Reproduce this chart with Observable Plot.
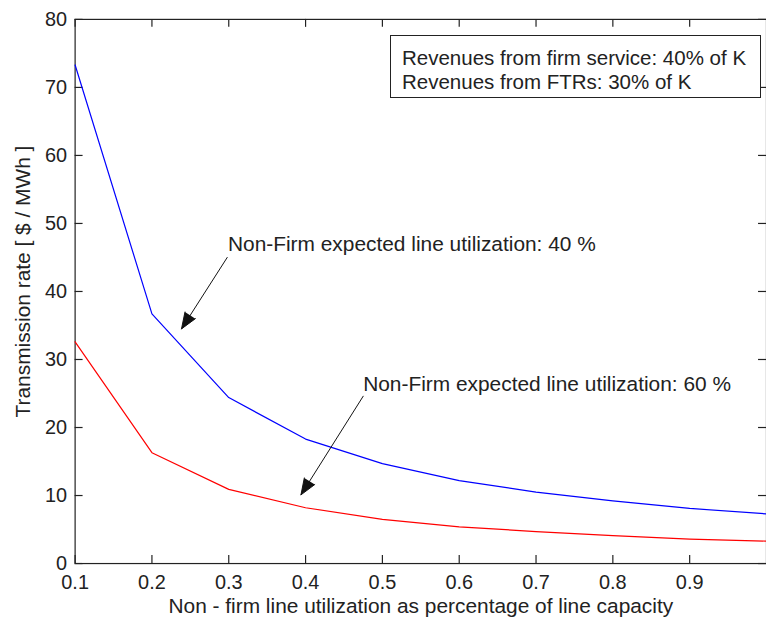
<!DOCTYPE html>
<html>
<head>
<meta charset="utf-8">
<script src="https://cdn.jsdelivr.net/npm/d3@7"></script>
<script src="https://cdn.jsdelivr.net/npm/@observablehq/plot@0.6"></script>
<style>
  html, body { margin: 0; padding: 0; background: #fff; overflow: hidden; }
  #wrap { position: relative; width: 766px; height: 623px; overflow: hidden; }
  #box {
    position: absolute; left: 390px; top: 35px; width: 371px; height: 63px;
    box-sizing: border-box; border: 1px solid #222; background: #fff;
    padding: 10px 0 0 11px; font-family: Arial, "Liberation Sans", sans-serif;
    font-size: 20.5px; line-height: 24px; color: #222; white-space: nowrap;
  }
</style>
</head>
<body>
<div id="wrap"></div>
<script>
// ---- data ----
const xValues = [0.1, 0.2, 0.3, 0.4, 0.5, 0.6, 0.7, 0.8, 0.9, 1.0];
const blueRate = [73.3, 36.7, 24.4, 18.3, 14.7, 12.2, 10.5, 9.2, 8.1, 7.3];
const redRate  = [32.6, 16.3, 10.9, 8.2, 6.5, 5.4, 4.7, 4.1, 3.6, 3.3];
const xTicks = [0.1, 0.2, 0.3, 0.4, 0.5, 0.6, 0.7, 0.8, 0.9];
const yTicks = [0, 10, 20, 30, 40, 50, 60, 70, 80];
const xLabel = "Non - firm line utilization as percentage of line capacity";
const yLabel = "Transmission rate [ $ / MWh ]";
const boxLines = ["Revenues from firm service: 40% of K", "Revenues from FTRs: 30% of K"];
const annText = ["Non-Firm expected line utilization: 40 %", "Non-Firm expected line utilization: 60 %"];
const annX = [0.299, 0.475];
const annY = [46.9, 26.3];
const arrowX1 = [0.298, 0.475];
const arrowY1 = [45.0, 24.6];
const arrowX2 = [0.2385, 0.394];
const arrowY2 = [34.5, 10.1];

// ---- build ----
const blueData = xValues.map((x, i) => ({x, y: blueRate[i]}));
const redData = xValues.map((x, i) => ({x, y: redRate[i]}));
const anns = annText.map((t, i) => ({t, x: annX[i], y: annY[i]}));
const arrows = arrowX1.map((d, i) => ({x1: d, y1: arrowY1[i], x2: arrowX2[i], y2: arrowY2[i]}));

const W = 770, H = 623, mL = 75, mR = 0, mT = 19, mB = 57;
const innerW = W - mL - mR, innerH = H - mT - mB;
const axisColor = "#222";
const font = 'Arial, "Liberation Sans", sans-serif';

const chart = Plot.plot({
  width: W, height: H,
  marginLeft: mL, marginRight: mR, marginTop: mT, marginBottom: mB,
  style: {fontFamily: font, fontSize: "20px", color: axisColor, background: "#fff", overflow: "visible"},
  x: {domain: [0.1, 1.0]},
  y: {domain: [0, 80]},
  marks: [
    Plot.frame({stroke: axisColor, strokeWidth: 1.2}),
    // inward ticks on all four sides
    Plot.tickX(xTicks, {x: d => d, insetTop: innerH - 8, stroke: axisColor, strokeWidth: 1.2}),
    Plot.tickX(xTicks, {x: d => d, insetBottom: innerH - 8, stroke: axisColor, strokeWidth: 1.2}),
    Plot.tickY(yTicks, {y: d => d, insetRight: innerW - 8, stroke: axisColor, strokeWidth: 1.2}),
    Plot.tickY(yTicks, {y: d => d, insetLeft: innerW - 8, stroke: axisColor, strokeWidth: 1.2}),
    Plot.axisX(xTicks, {tickSize: 0, tickPadding: 11, label: null, fontSize: 20, tickFormat: d3.format(".1f")}),
    Plot.axisY(yTicks, {tickSize: 0, tickPadding: 8, label: null, fontSize: 20}),
    Plot.text([xLabel], {frameAnchor: "bottom", textAnchor: "middle", dy: 43, fontSize: 21, fill: axisColor, lineAnchor: "middle"}),
    Plot.text([yLabel], {frameAnchor: "left", textAnchor: "middle", lineAnchor: "middle", dx: -52, dy: -10, rotate: -90, fontSize: 21, fill: axisColor}),
    Plot.line(blueData, {x: "x", y: "y", stroke: "#0000ff", strokeWidth: 1.2}),
    Plot.line(redData, {x: "x", y: "y", stroke: "#ff0000", strokeWidth: 1.2}),
    Plot.arrow(arrows, {x1: "x1", y1: "y1", x2: "x2", y2: "y2", stroke: "#111", fill: "#111", strokeWidth: 1, headLength: 26, headAngle: 42}),
    Plot.text(anns, {x: "x", y: "y", text: "t", textAnchor: "start", fontSize: 21, fill: axisColor})
  ]
});

const wrap = document.getElementById("wrap");
wrap.appendChild(chart);
const box = document.createElement("div");
box.id = "box";
box.innerHTML = boxLines.map(s => `<div>${s}</div>`).join("");
wrap.appendChild(box);
</script>
</body>
</html>
